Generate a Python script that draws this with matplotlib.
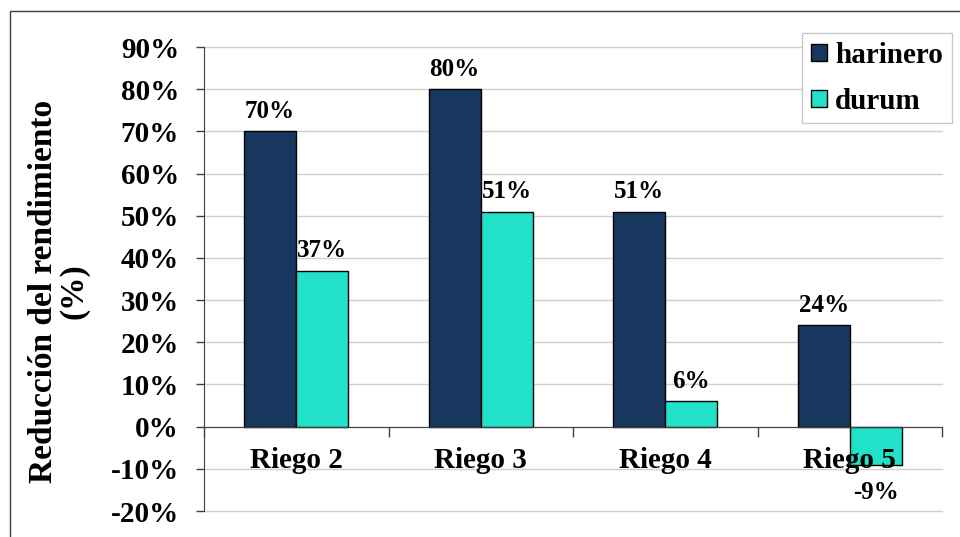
import matplotlib
matplotlib.use('Agg')
import matplotlib.pyplot as plt
from matplotlib.patches import Rectangle
import numpy as np

plt.rcParams['font.family'] = ['Liberation Serif', 'DejaVu Serif']
plt.rcParams['font.weight'] = 'bold'

categories = ['Riego 2', 'Riego 3', 'Riego 4', 'Riego 5']
harinero = [70, 80, 51, 24]
durum = [37, 51, 6, -9]
yticks = [-20, -10, 0, 10, 20, 30, 40, 50, 60, 70, 80, 90]

c_har = '#18375E'
c_dur = '#21E1C9'

fig = plt.figure(figsize=(9.6, 5.37), dpi=100)
ax = fig.add_axes([204 / 960, 1 - 511 / 537, (942 - 204) / 960, (511 - 47) / 537])

# axis layout first (moving the spine resets the ticks)
for s in ['top', 'right']:
    ax.spines[s].set_visible(False)
ax.spines['bottom'].set_position(('data', 0))
ax.spines['bottom'].set_color('#404040')
ax.spines['left'].set_color('#404040')
ax.spines['bottom'].set_zorder(4)

x = np.arange(len(categories))
w = 0.283
b1 = ax.bar(x - w / 2, harinero, w, color=c_har, edgecolor='black', linewidth=1, zorder=3, label='harinero')
b2 = ax.bar(x + w / 2, durum, w, color=c_dur, edgecolor='black', linewidth=1, zorder=3, label='durum')

for bars, vals in [(b1, harinero), (b2, durum)]:
    for r, v in zip(bars, vals):
        cx = r.get_x() + r.get_width() / 2
        if v >= 0:
            ax.text(cx, v + 3.2, f'{v}%', ha='center', va='baseline', fontsize=18, fontweight='bold', zorder=5)
        else:
            ax.text(cx, v - 3.8, f'{v}%', ha='center', va='top', fontsize=18, fontweight='bold', zorder=5)

ax.set_xlim(-0.5, 3.5)
ax.set_ylim(-20, 90)
ax.set_yticks(yticks)
ax.set_yticklabels([f'{t}%' for t in yticks])
ax.yaxis.grid(True, color='#CFCFCF', linewidth=1)
ax.tick_params(axis='y', direction='out', length=6, width=1, color='#404040', pad=12, labelsize=21)

ax.set_xticks(x)
ax.set_xticklabels(categories)
ax.set_xticks(np.arange(-0.5, 4, 1), minor=True)
ax.tick_params(axis='x', which='major', length=0, pad=15, labelsize=21)
ax.tick_params(axis='x', which='minor', direction='out', length=7, width=1, color='#404040')
for gl in ax.get_ygridlines():
    gl.set_clip_on(False)
# grid under the bars, category labels over them (as in "Riego 5")
ax.yaxis.set_zorder(0.5)
ax.xaxis.set_zorder(4.5)

leg = ax.legend(loc='upper right', bbox_to_anchor=(952 / 960, 1 - 33 / 537), bbox_transform=fig.transFigure,
                prop={'size': 21, 'weight': 'bold'}, frameon=True, fancybox=False,
                edgecolor='#C8C8C8', framealpha=1, handlelength=0.55, handleheight=0.55,
                handletextpad=0.3, borderpad=0.3, labelspacing=0.65, borderaxespad=0)
leg.get_frame().set_linewidth(1)
leg.set_zorder(6)

fig.text(59 / 960, 1 - 291 / 537, 'Reducción del rendimiento\n(%)', rotation=90, ha='center', va='center',
         fontsize=24, fontweight='bold', linespacing=0.95)

fig.patches.append(Rectangle((9.5 / 960, -0.1), 1.2, 1 - 11 / 537 + 0.1, transform=fig.transFigure,
                             fill=False, edgecolor='#404040', linewidth=1))

fig.savefig('out.png', dpi=100)
